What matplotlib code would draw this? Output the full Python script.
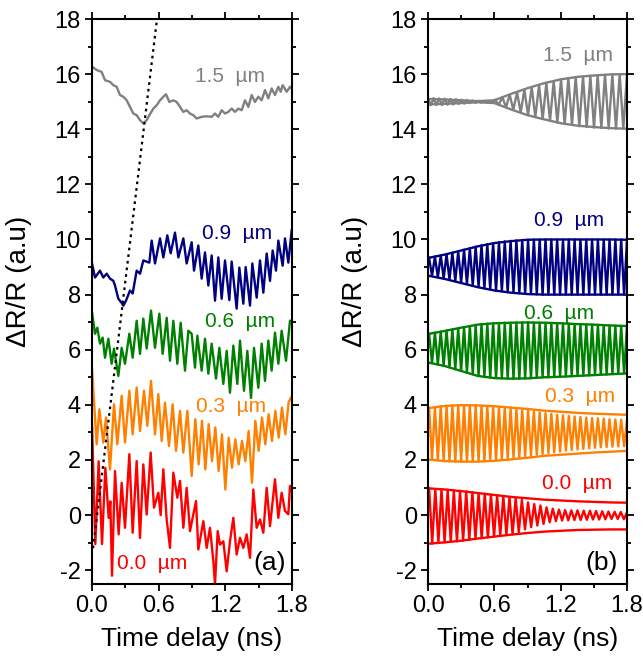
import matplotlib
matplotlib.use("Agg")
import matplotlib.pyplot as plt
import numpy as np

plt.rcParams['font.family'] = ['Liberation Sans', 'DejaVu Sans']
plt.rcParams['axes.unicode_minus'] = False

# ---------------- panel (a): measured traces ----------------
t15a = [0.0, 0.042, 0.087, 0.117, 0.162, 0.192, 0.222, 0.252, 0.282, 0.312, 0.342, 0.372, 0.402, 0.432,
        0.462, 0.492, 0.516, 0.552, 0.582, 0.612, 0.642, 0.666, 0.696, 0.732, 0.762, 0.792, 0.822, 0.852,
        0.882, 0.912, 0.942, 0.987, 1.032, 1.077, 1.107, 1.137, 1.167, 1.197, 1.227, 1.257, 1.287, 1.317,
        1.347, 1.377, 1.407, 1.437, 1.467, 1.497, 1.527, 1.557, 1.587, 1.617, 1.647, 1.677, 1.698, 1.716,
        1.752, 1.782, 1.8]
y15a = [16.27, 16.15, 16.08, 15.78, 15.72, 15.60, 15.54, 15.24, 15.18, 15.05, 14.81, 14.57, 14.51, 14.33,
        14.21, 14.33, 14.51, 14.75, 14.87, 15.05, 15.18, 15.27, 14.99, 15.05, 14.99, 14.81, 14.63, 14.69,
        14.57, 14.51, 14.39, 14.45, 14.47, 14.45, 14.57, 14.45, 14.69, 14.57, 14.63, 14.75, 14.63, 14.75,
        14.69, 15.05, 14.81, 15.24, 14.99, 15.18, 15.05, 15.42, 15.12, 15.48, 15.24, 15.54, 15.36, 15.60,
        15.36, 15.54, 15.45]

t09a = [0.0, 0.027, 0.072, 0.102, 0.132, 0.162, 0.192, 0.207, 0.237, 0.267, 0.282, 0.306, 0.342, 0.366,
        0.402, 0.432, 0.462, 0.516, 0.537, 0.567, 0.612, 0.642, 0.678, 0.708, 0.747, 0.777, 0.822, 0.852,
        0.897, 0.918, 0.957, 0.987, 1.017, 1.047, 1.077, 1.107, 1.137, 1.167, 1.197, 1.236, 1.257, 1.302,
        1.326, 1.362, 1.383, 1.422, 1.443, 1.482, 1.512, 1.542, 1.572, 1.602, 1.626, 1.656, 1.677, 1.716,
        1.737, 1.767, 1.797]
y09a = [9.13, 8.62, 8.87, 8.62, 8.76, 8.58, 8.50, 8.33, 7.85, 7.70, 7.60, 7.78, 8.15, 8.04,
        8.87, 8.76, 9.24, 9.16, 9.96, 9.13, 10.04, 9.35, 10.15, 9.50, 10.25, 9.35, 10.04, 9.13,
        9.90, 8.87, 9.78, 8.58, 9.53, 8.33, 9.42, 7.78, 9.35, 7.85, 9.24, 7.80, 9.20, 7.49,
        8.98, 7.67, 9.00, 7.60, 9.13, 7.89, 9.24, 8.07, 9.49, 8.50, 9.60, 8.87, 9.96, 9.05,
        10.04, 9.16, 10.33]

t06a = [0.0, 0.027, 0.048, 0.072, 0.096, 0.117, 0.147, 0.177, 0.198, 0.237, 0.267, 0.297, 0.336, 0.366,
        0.402, 0.432, 0.462, 0.492, 0.531, 0.567, 0.606, 0.636, 0.672, 0.702, 0.732, 0.768, 0.798, 0.837,
        0.867, 0.897, 0.927, 0.948, 0.987, 1.017, 1.047, 1.077, 1.116, 1.146, 1.182, 1.212, 1.242, 1.272,
        1.308, 1.332, 1.368, 1.398, 1.431, 1.458, 1.497, 1.527, 1.557, 1.587, 1.617, 1.647, 1.677, 1.707,
        1.746, 1.782]
y06a = [7.36, 6.58, 6.80, 6.22, 6.44, 5.71, 6.40, 5.49, 6.04, 5.05, 6.07, 5.49, 6.58, 5.71,
        7.05, 5.85, 7.13, 6.04, 7.42, 6.07, 7.31, 5.85, 7.16, 5.60, 7.05, 5.49, 6.98, 5.24,
        6.69, 6.58, 5.35, 6.51, 5.24, 6.40, 5.13, 6.22, 4.95, 6.07, 4.76, 5.96, 4.44, 6.15,
        4.76, 6.33, 4.51, 5.96, 4.25, 6.07, 4.62, 6.22, 4.87, 6.33, 5.24, 6.62, 5.49, 6.69,
        5.60, 7.05]

t03a = [0.0, 0.042, 0.066, 0.102, 0.126, 0.162, 0.198, 0.228, 0.267, 0.297, 0.336, 0.366, 0.402, 0.432,
        0.468, 0.498, 0.531, 0.567, 0.597, 0.627, 0.657, 0.693, 0.726, 0.756, 0.792, 0.822, 0.858, 0.897,
        0.93, 0.96, 0.99, 1.02, 1.05, 1.08, 1.11, 1.14, 1.17, 1.20, 1.23, 1.26, 1.29, 1.32,
        1.35, 1.38, 1.41, 1.44, 1.47, 1.50, 1.53, 1.56, 1.59, 1.62, 1.65, 1.68, 1.71, 1.74,
        1.77, 1.80]
y03a = [5.30, 2.57, 3.84, 2.63, 3.54, 1.66, 4.02, 2.57, 4.33, 2.63, 4.51, 2.93, 4.63, 3.05,
        4.51, 3.24, 4.87, 2.93, 4.39, 2.69, 4.08, 2.51, 4.02, 2.33, 3.78, 2.27, 3.78, 1.42,
        3.48, 1.84, 3.42, 1.66, 3.30, 1.96, 3.18, 1.60, 2.93, 0.93, 2.81, 1.72, 2.75, 1.84,
        2.69, 1.96, 3.05, 1.17, 3.42, 2.33, 3.54, 2.57, 3.66, 2.69, 3.78, 2.81, 3.90, 2.93,
        4.10, 4.33]

t00a = [0.0, 0.03, 0.06, 0.09, 0.12, 0.15, 0.165, 0.18, 0.207, 0.24, 0.267, 0.297, 0.336, 0.366,
        0.402, 0.432, 0.462, 0.492, 0.528, 0.558, 0.597, 0.618, 0.642, 0.672, 0.702, 0.732, 0.768, 0.792,
        0.822, 0.852, 0.882, 0.936, 0.957, 1.002, 1.032, 1.062, 1.092, 1.107, 1.131, 1.152, 1.182, 1.212,
        1.242, 1.272, 1.302, 1.332, 1.362, 1.392, 1.422, 1.452, 1.482, 1.512, 1.542, 1.572, 1.602, 1.647,
        1.677, 1.707, 1.737, 1.767, 1.782, 1.8]
y00a = [3.30, -1.05, 1.95, -1.05, 1.72, -0.10, 0.50, -2.20, 1.60, -0.70, 1.17, -0.46, 2.21, -0.64,
        1.96, -0.83, 1.84, 0.02, 2.27, 0.27, 0.81, 0.00, 1.66, -0.16, -1.19, 1.54, 0.63, 1.24,
        -0.46, 0.99, -0.58, 0.51, -1.25, -0.22, -1.19, -0.46, -1.67, -2.52, -0.58, -1.07, -0.95, -2.04,
        -0.95, -0.10, -1.43, -0.82, -1.19, -0.70, -1.55, 0.93, -0.46, -0.16, -0.64, 0.99, -0.40, 1.30,
        -0.10, 0.81, 0.15, 0.03, 1.06, 0.90]

# dotted guide line in (a)
guide_t = [0.01, 0.585]
guide_y = [-1.2, 18.0]

# ---------------- panel (b): fitted oscillations ----------------
# envelopes sampled every 0.15 ns
env_t = [0.0, 0.15, 0.3, 0.45, 0.6, 0.75, 0.9, 1.05, 1.2, 1.35, 1.5, 1.65, 1.8]
env15_hi = [15.10, 15.08, 15.05, 15.02, 15.05, 15.28, 15.49, 15.67, 15.81, 15.90, 15.95, 15.99, 16.00]
env15_lo = [14.90, 14.92, 14.95, 14.98, 14.95, 14.72, 14.51, 14.36, 14.22, 14.13, 14.08, 14.04, 14.02]
env09_hi = [9.33, 9.45, 9.60, 9.75, 9.87, 9.94, 9.99, 10.0, 10.0, 10.0, 10.0, 10.0, 9.99]
env09_lo = [8.69, 8.57, 8.42, 8.27, 8.15, 8.07, 8.02, 8.0, 8.0, 8.0, 8.0, 8.0, 8.0]
env06_hi = [6.57, 6.68, 6.80, 6.91, 6.96, 6.98, 6.99, 6.98, 6.96, 6.93, 6.91, 6.88, 6.86]
env06_lo = [5.54, 5.41, 5.23, 5.05, 4.97, 4.95, 4.96, 5.00, 5.02, 5.05, 5.08, 5.11, 5.14]
env03_hi = [3.88, 3.96, 3.99, 3.98, 3.95, 3.90, 3.85, 3.79, 3.75, 3.71, 3.68, 3.66, 3.64]
env03_lo = [2.02, 1.96, 1.94, 1.94, 1.97, 2.02, 2.08, 2.15, 2.19, 2.23, 2.27, 2.30, 2.33]
env00_hi = [0.97, 0.93, 0.87, 0.80, 0.73, 0.66, 0.61, 0.56, 0.53, 0.50, 0.48, 0.46, 0.45]
env00_lo = [-1.04, -0.99, -0.93, -0.85, -0.78, -0.71, -0.65, -0.60, -0.57, -0.54, -0.53, -0.52, -0.52]

# successive maxima / minima of each oscillation
pk15_early = [15.13, 15.13, 15.12, 15.11, 15.10, 15.09, 15.07, 15.06, 15.04, 15.03, 15.02]
tr15_early = [14.87, 14.88, 14.88, 14.89, 14.90, 14.92, 14.93, 14.95, 14.96, 14.97, 14.98]
pk15_late = [15.02, 15.07, 15.16, 15.25, 15.34, 15.43, 15.52, 15.60, 15.68, 15.74, 15.80, 15.85, 15.89,
             15.92, 15.94, 15.96, 15.97, 15.98, 15.99, 16.00]
tr15_late = [14.96, 14.89, 14.80, 14.70, 14.61, 14.52, 14.44, 14.37, 14.30, 14.24, 14.19, 14.15, 14.11,
             14.08, 14.06, 14.04, 14.03, 14.02, 14.02]

pk09 = [9.33, 9.38, 9.42, 9.47, 9.52, 9.57, 9.63, 9.68, 9.74, 9.79, 9.83, 9.87, 9.90, 9.93, 9.95, 9.97,
        9.98, 9.99, 10.0, 10.0, 10.0, 10.0, 10.0, 10.0, 10.0, 10.0, 10.0, 10.0, 10.0, 10.0, 10.0, 10.0,
        10.0, 10.0, 9.99]
tr09 = [8.68, 8.63, 8.59, 8.54, 8.49, 8.44, 8.39, 8.33, 8.28, 8.23, 8.19, 8.15, 8.12, 8.09, 8.07, 8.05,
        8.03, 8.02, 8.01, 8.0, 8.0, 8.0, 8.0, 8.0, 8.0, 8.0, 8.0, 8.0, 8.0, 8.0, 8.0, 8.0, 8.0, 8.0]

pk06 = [6.58, 6.62, 6.66, 6.70, 6.74, 6.78, 6.82, 6.86, 6.90, 6.93, 6.94, 6.96, 6.97, 6.98, 6.98, 6.99,
        6.99, 6.99, 6.98, 6.98, 6.98, 6.97, 6.96, 6.95, 6.94, 6.93, 6.92, 6.92, 6.91, 6.90, 6.89, 6.88,
        6.87, 6.86, 6.86]
tr06 = [5.51, 5.47, 5.42, 5.36, 5.29, 5.23, 5.17, 5.11, 5.05, 5.02, 4.99, 4.97, 4.96, 4.95, 4.95, 4.95,
        4.96, 4.97, 4.98, 5.00, 5.00, 5.01, 5.02, 5.03, 5.04, 5.05, 5.06, 5.07, 5.08, 5.09, 5.10, 5.12,
        5.13, 5.14]

pk03 = [3.89, 3.92, 3.95, 3.97, 3.98, 3.99, 3.99, 3.99, 3.98, 3.97, 3.96, 3.94, 3.92, 3.90, 3.88, 3.85,
        3.82, 3.79, 3.76, 3.73, 3.70, 3.67, 3.64, 3.62, 3.60, 3.58, 3.56, 3.54, 3.52, 3.51, 3.50, 3.48,
        3.47, 3.46, 3.45]
tr03 = [2.01, 1.98, 1.96, 1.95, 1.94, 1.94, 1.94, 1.94, 1.95, 1.96, 1.97, 1.99, 2.01, 2.04, 2.07, 2.10,
        2.13, 2.16, 2.19, 2.22, 2.25, 2.28, 2.31, 2.34, 2.36, 2.38, 2.40, 2.42, 2.44, 2.46, 2.47, 2.48,
        2.49, 2.50]

pk00 = [0.97, 0.95, 0.94, 0.92, 0.90, 0.88, 0.86, 0.83, 0.80, 0.77, 0.74, 0.71, 0.68, 0.66, 0.62, 0.55,
        0.46, 0.40, 0.35, 0.28, 0.23, 0.20, 0.18, 0.17, 0.17, 0.16, 0.16, 0.15, 0.14, 0.13, 0.12, 0.11, 0.10]
tr00 = [-1.03, -1.01, -0.99, -0.97, -0.95, -0.93, -0.90, -0.87, -0.84, -0.81, -0.78, -0.75, -0.72, -0.70,
        -0.62, -0.52, -0.44, -0.38, -0.32, -0.26, -0.22, -0.20, -0.19, -0.18, -0.18, -0.17, -0.16, -0.16,
        -0.15, -0.14, -0.14, -0.15]

colors = {'1.5': '#808080', '0.9': '#000080', '0.6': '#008000', '0.3': '#FF8000', '0.0': '#FF0000'}


def zigzag(peaks, troughs):
    # alternate maxima and minima into one trace
    y = np.empty(len(peaks) + len(troughs))
    y[0::2] = peaks
    y[1::2] = troughs
    return y


def style_axis(ax):
    ax.set_xlim(0, 1.8)
    ax.set_ylim(-2.5, 18)
    ax.set_xticks([0, 0.6, 1.2, 1.8])
    ax.set_xticks([0.3, 0.9, 1.5], minor=True)
    ax.set_yticks(np.arange(-2, 19, 2))
    ax.set_yticks(np.arange(-1, 18, 2), minor=True)
    ax.xaxis.set_major_formatter(plt.FormatStrFormatter('%.1f'))
    ax.tick_params(which='both', direction='out', top=True, right=True, width=1.3, labelsize=17)
    ax.tick_params(which='major', length=5, pad=3)
    ax.tick_params(which='minor', length=3)
    for s in ax.spines.values():
        s.set_linewidth(1.5)
    ax.set_xlabel('Time delay (ns)', fontsize=19, labelpad=7)
    ax.set_ylabel('ΔR/R (a.u)', fontsize=20)
    ax.yaxis.set_label_coords(-0.30, 0.535)


fig = plt.figure(figsize=(6.43, 6.61), dpi=100)
ax1 = fig.add_axes([92 / 643, 1 - 584 / 661, 200 / 643, 565 / 661])
ax2 = fig.add_axes([428 / 643, 1 - 584 / 661, 199 / 643, 565 / 661])

lw = 1.7
ax1.plot(t15a, y15a, color=colors['1.5'], lw=lw)
ax1.plot(t09a, y09a, color=colors['0.9'], lw=lw)
ax1.plot(t06a, y06a, color=colors['0.6'], lw=lw)
ax1.plot(t03a, y03a, color=colors['0.3'], lw=lw)
ax1.plot(t00a, y00a, color=colors['0.0'], lw=lw)
ax1.plot(guide_t, guide_y, color='black', ls=(0, (1.2, 1.8)), lw=1.6)

fs = 15
ax1.text(1.24, 15.93, '1.5  µm', color=colors['1.5'], fontsize=fs, ha='center', va='center')
ax1.text(1.31, 10.22, '0.9  µm', color=colors['0.9'], fontsize=fs, ha='center', va='center')
ax1.text(1.33, 7.02, '0.6  µm', color=colors['0.6'], fontsize=fs, ha='center', va='center')
ax1.text(1.25, 3.93, '0.3  µm', color=colors['0.3'], fontsize=fs, ha='center', va='center')
ax1.text(0.54, -1.75, '0.0  µm', color=colors['0.0'], fontsize=fs, ha='center', va='center')
ax1.text(1.6, -1.75, '(a)', fontsize=19, ha='center', va='center')

# panel (b)
y15b = np.concatenate([zigzag(pk15_early, tr15_early), zigzag(pk15_late, tr15_late)])
t15b = np.concatenate([np.linspace(0.0, 0.53, 2 * len(pk15_early)),
                       np.linspace(0.54, 1.8, len(pk15_late) + len(tr15_late))])
traces_b = [
    ('1.5', t15b, y15b, env15_hi, env15_lo),
    ('0.9', None, zigzag(pk09, tr09), env09_hi, env09_lo),
    ('0.6', None, zigzag(pk06, tr06), env06_hi, env06_lo),
    ('0.3', None, zigzag(pk03, tr03), env03_hi, env03_lo),
    ('0.0', None, zigzag(pk00, tr00), env00_hi, env00_lo),
]
for key, tt, yy, hi, lo in traces_b:
    if tt is None:
        tt = np.linspace(0.01, 1.8, len(yy))
    ax2.plot(tt, yy, color=colors[key], lw=lw)
    ax2.plot(env_t, hi, color=colors[key], lw=lw)
    ax2.plot(env_t, lo, color=colors[key], lw=lw)

ax2.text(1.357, 16.69, '1.5  µm', color=colors['1.5'], fontsize=fs, ha='center', va='center')
ax2.text(1.275, 10.69, '0.9  µm', color=colors['0.9'], fontsize=fs, ha='center', va='center')
ax2.text(1.19, 7.32, '0.6  µm', color=colors['0.6'], fontsize=fs, ha='center', va='center')
ax2.text(1.375, 4.30, '0.3  µm', color=colors['0.3'], fontsize=fs, ha='center', va='center')
ax2.text(1.35, 1.13, '0.0  µm', color=colors['0.0'], fontsize=fs, ha='center', va='center')
ax2.text(1.57, -1.75, '(b)', fontsize=19, ha='center', va='center')

style_axis(ax1)
style_axis(ax2)

fig.savefig('out.png', dpi=100)
